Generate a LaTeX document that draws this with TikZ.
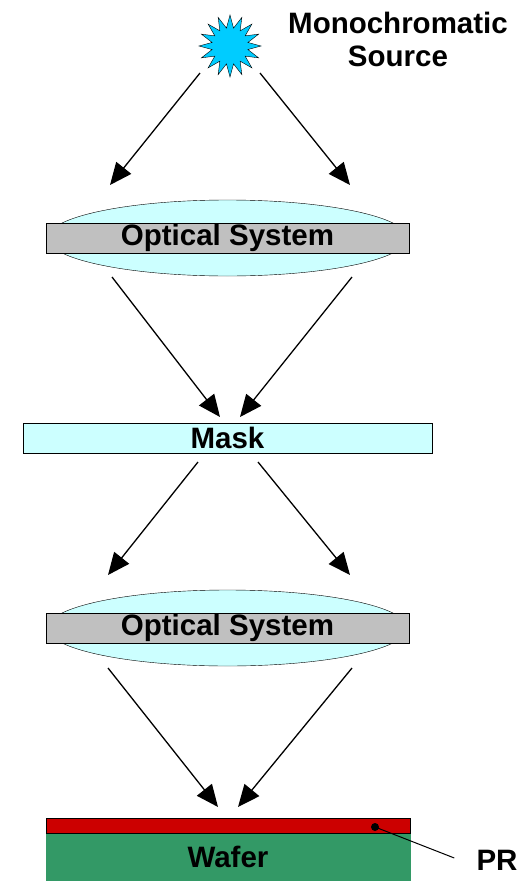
\documentclass[tikz,border=0pt]{standalone}
\usepackage{fontspec}
\setmainfont{Liberation Sans}
\usepackage{xcolor}
\usetikzlibrary{arrows.meta,shapes,positioning,calc}

\definecolor{srcblue}{HTML}{00CCFF}
\definecolor{lenscyan}{HTML}{CCFFFF}
\definecolor{optgray}{HTML}{C0C0C0}
\definecolor{resistred}{HTML}{CC0000}
\definecolor{wafergreen}{HTML}{339966}

\begin{document}
\begin{tikzpicture}[
    x=1pt, y=-1pt,
    every node/.style={font=\bfseries\fontsize{29.5}{33}\selectfont, inner sep=0pt},
    lens/.style={ellipse, draw, fill=lenscyan, minimum width=360pt, minimum height=76pt},
    optic/.style={rectangle, draw, fill=optgray, minimum width=363pt, minimum height=30pt},
    plate/.style={rectangle, draw, fill=lenscyan, minimum width=409pt, minimum height=30pt},
    beam/.style={-{Triangle[length=22pt,width=19pt]}, line width=1.3pt, black}
]
\useasboundingbox (0,0) rectangle (525,881);

% Draw source
\node[star, star points=16, star point ratio=1.7, minimum size=62pt, draw, fill=srcblue] (source) at (230,46) {};
\node[align=center] (srclabel) at (398,39) {Monochromatic\\Source};

% Draw optics and mask
\node[lens] (lensA) at (227.5,238) {};
\node[optic] (optA) at (227.5,238) {Optical System};

\node[plate] (mask) at (227.5,438) {Mask};

\node[lens] (lensB) at (227.5,628) {};
\node[optic] (optB) at (227.5,628) {Optical System};

% Draw wafer
\node[rectangle, draw=wafergreen, fill=wafergreen, minimum width=364pt, minimum height=48pt] (wafer) at (228,857) {Wafer};
\node[rectangle, draw, fill=resistred, minimum width=364pt, minimum height=15pt] (pr) at (228,825.5) {};
\fill (375,827) circle (4pt) coordinate (prdot);
\node (prlabel) at (497,860) {PR};
\draw[line width=1pt] (prdot) -- ($(prlabel.west)+(-22,-2)$);

% Draw arrows
\draw[beam] ($(source)+(-30,27)$) -- ($(optA)+(-117.5,-53)$);
\draw[beam] ($(source)+(30,27)$) -- ($(optA)+(122.5,-53)$);
\draw[beam] ($(optA)+(-115.5,39)$) -- ($(mask)+(-7.5,-21)$);
\draw[beam] ($(optA)+(124.5,39)$) -- ($(mask)+(12.5,-21)$);
\draw[beam] ($(mask)+(-29.5,24)$) -- ($(optB)+(-119.5,-53)$);
\draw[beam] ($(mask)+(30.5,24)$) -- ($(optB)+(122.5,-53)$);
\draw[beam] ($(optB)+(-119.5,40)$) -- ($(pr)+(-10,-18.5)$);
\draw[beam] ($(optB)+(124.5,40)$) -- ($(pr)+(10,-18.5)$);

\end{tikzpicture}
\end{document}
